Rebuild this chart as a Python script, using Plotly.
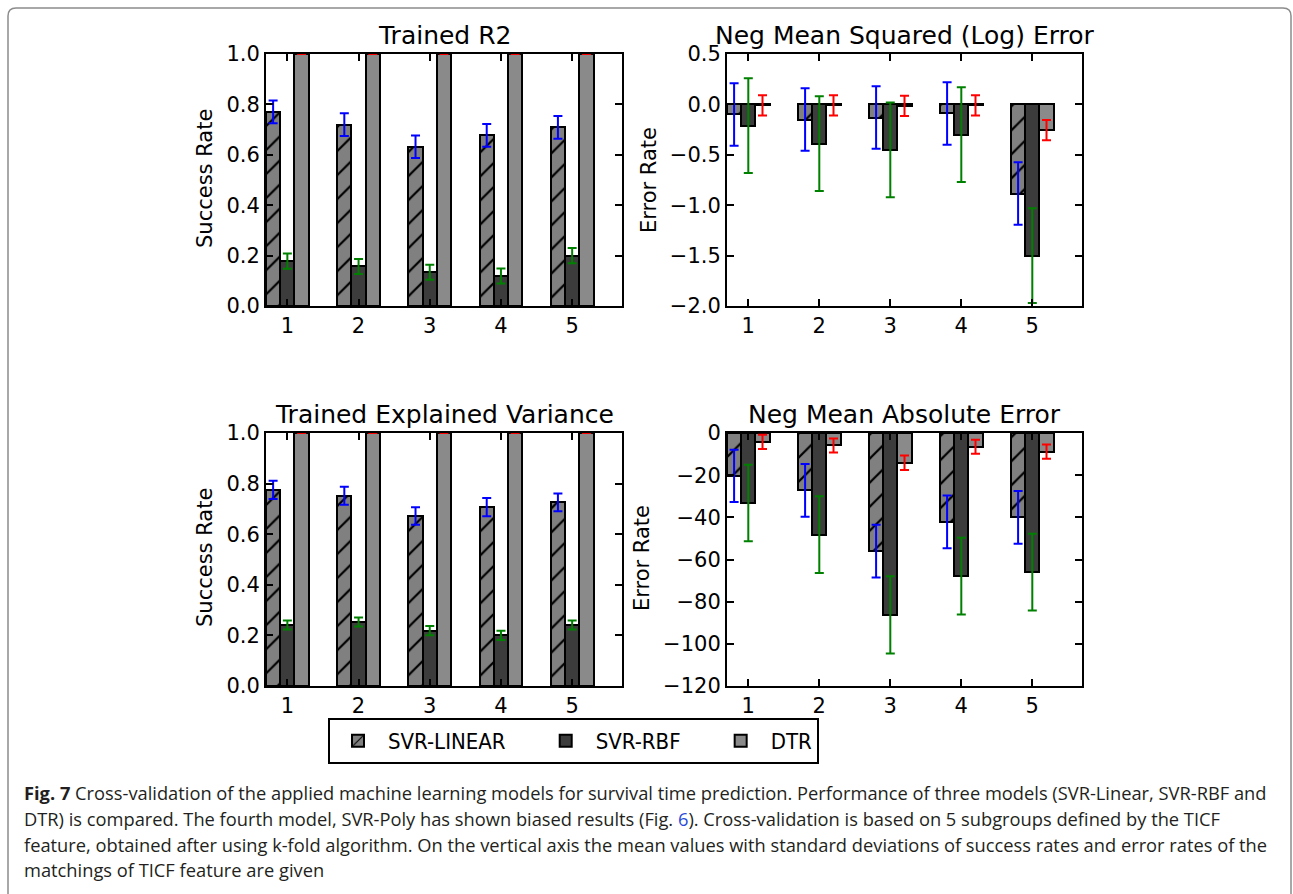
import numpy as np
import plotly.graph_objects as go
from plotly.subplots import make_subplots

# ---------------- data ----------------
categories = ["1", "2", "3", "4", "5"]
models = ["SVR-LINEAR", "SVR-RBF", "DTR"]

r2_lin = [0.770, 0.720, 0.632, 0.677, 0.709]
r2_lin_sd = [0.045, 0.045, 0.045, 0.045, 0.045]
r2_rbf = [0.178, 0.157, 0.134, 0.119, 0.200]
r2_rbf_sd = [0.030, 0.030, 0.030, 0.030, 0.030]
r2_dtr = [1.0, 1.0, 1.0, 1.0, 1.0]
r2_dtr_sd = [0.0, 0.0, 0.0, 0.0, 0.0]

msle_lin = [-0.10, -0.15, -0.13, -0.09, -0.885]
msle_lin_sd = [0.31, 0.31, 0.31, 0.31, 0.31]
msle_rbf = [-0.21, -0.39, -0.45, -0.30, -1.50]
msle_rbf_sd = [0.47, 0.47, 0.47, 0.47, 0.47]
msle_dtr = [-0.01, -0.01, -0.015, -0.01, -0.255]
msle_dtr_sd = [0.10, 0.10, 0.10, 0.10, 0.10]

ev_lin = [0.775, 0.752, 0.672, 0.707, 0.726]
ev_lin_sd = [0.036, 0.036, 0.035, 0.036, 0.035]
ev_rbf = [0.241, 0.253, 0.219, 0.200, 0.241]
ev_rbf_sd = [0.018, 0.018, 0.018, 0.018, 0.018]
ev_dtr = [1.0, 1.0, 1.0, 1.0, 1.0]
ev_dtr_sd = [0.0, 0.0, 0.0, 0.0, 0.0]

mae_lin = [-20.3, -27.2, -56.0, -42.2, -40.0]
mae_lin_sd = [12.4, 12.5, 12.5, 12.5, 12.5]
mae_rbf = [-33.2, -48.2, -86.3, -67.9, -66.0]
mae_rbf_sd = [18.2, 18.2, 18.3, 18.2, 18.2]
mae_dtr = [-4.2, -5.9, -14.1, -6.5, -8.8]
mae_dtr_sd = [3.4, 3.3, 3.4, 3.3, 3.4]

titles = ["Trained R2", "Neg Mean Squared (Log) Error",
          "Trained Explained Variance", "Neg Mean Absolute Error"]
ylabels = ["Success Rate", "Error Rate", "Success Rate", "Error Rate"]

caption_lines = [
    "<b>Fig. 7</b> Cross-validation of the applied machine learning models for survival time prediction. Performance of three models (SVR-Linear, SVR-RBF and",
    "DTR) is compared. The fourth model, SVR-Poly has shown biased results (Fig. <span style='color:#2a4bd8'>6</span>). Cross-validation is based on 5 subgroups defined by the TICF",
    "feature, obtained after using k-fold algorithm. On the vertical axis the mean values with standard deviations of success rates and error rates of the",
    "matchings of TICF feature are given",
]

# ---------------- layout constants ----------------
W, H = 1293, 894
BAR_W = 0.2
ind = np.arange(len(categories))
bar_colors = ["#808080", "#3c3c3c", "#8a8a8a"]
err_colors = ["#0000ff", "#008000", "#ff0000"]
NB = "\u00a0"
legend_pad = [NB * 4, NB * 4, ""]  # spacing between legend entries

panels = [
    (r2_lin, r2_lin_sd, r2_rbf, r2_rbf_sd, r2_dtr, r2_dtr_sd),
    (msle_lin, msle_lin_sd, msle_rbf, msle_rbf_sd, msle_dtr, msle_dtr_sd),
    (ev_lin, ev_lin_sd, ev_rbf, ev_rbf_sd, ev_dtr, ev_dtr_sd),
    (mae_lin, mae_lin_sd, mae_rbf, mae_rbf_sd, mae_dtr, mae_dtr_sd),
]

def px_x(p):
    return p / W

def px_y(p):
    return 1 - p / H

# pixel boxes (left, right, top, bottom)
boxes = [
    (266, 622, 54, 306),
    (727, 1082, 54, 306),
    (266, 622, 433, 686),
    (727, 1082, 433, 686),
]
yranges = [[0, 1.0], [-2.0, 0.5], [0, 1.0], [-120, 0]]
ydticks = [0.2, 0.5, 0.2, 20]
yformats = [".1f", ".1f", ".1f", "d"]

fig = make_subplots(rows=2, cols=2)

for k, data in enumerate(panels):
    r, c = k // 2 + 1, k % 2 + 1
    vals = [data[0], data[2], data[4]]
    sds = [data[1], data[3], data[5]]
    for m in range(3):
        pattern = dict(shape="/" if m == 0 else "", fgcolor="black",
                       bgcolor=bar_colors[m], fillmode="replace",
                       size=17, solidity=0.13)
        fig.add_trace(go.Bar(
            x=ind + BAR_W * (m + 0.5), y=vals[m], width=BAR_W,
            name=models[m] + legend_pad[m], legendgroup=models[m],
            showlegend=(k == 0),
            marker=dict(color=bar_colors[m], line=dict(color="black", width=2),
                        pattern=pattern),
            error_y=dict(type="data", array=sds[m], color=err_colors[m],
                         thickness=2, width=4.5),
        ), row=r, col=c)

axis_font = dict(family="DejaVu Sans", size=21, color="black")
for k in range(4):
    l, rgt, t, b = boxes[k]
    xa = "xaxis" if k == 0 else f"xaxis{k+1}"
    ya = "yaxis" if k == 0 else f"yaxis{k+1}"
    fig.layout[xa].update(
        domain=[px_x(l), px_x(rgt)], range=[0, 5],
        tickmode="array", tickvals=list(ind + 0.3), ticktext=categories,
        ticks="inside", ticklen=7, tickwidth=1.5, tickcolor="black",
        showline=True, linecolor="black", linewidth=2, mirror="allticks",
        showgrid=False, zeroline=False, tickfont=axis_font, fixedrange=True,
        automargin=False)
    fig.layout[ya].update(
        domain=[px_y(b), px_y(t)], range=yranges[k], dtick=ydticks[k],
        tick0=0, tickformat=yformats[k],
        ticks="inside", ticklen=7, tickwidth=1.5, tickcolor="black",
        showline=True, linecolor="black", linewidth=2, mirror="allticks",
        showgrid=False, zeroline=False, tickfont=axis_font, fixedrange=True,
        automargin=False)
    fig.add_annotation(text=titles[k], xref="paper", yref="paper",
                       x=px_x((l + rgt) / 2), y=px_y(t), xanchor="center",
                       yanchor="bottom", yshift=2, showarrow=False,
                       font=dict(family="DejaVu Sans", size=25, color="black"))

ylab_pos = [(205, 179), (649, 180), (205, 558), (642, 558)]
for k in range(4):
    fig.add_annotation(text=ylabels[k], xref="paper", yref="paper",
                       x=px_x(ylab_pos[k][0]), y=px_y(ylab_pos[k][1]),
                       xanchor="center", yanchor="middle", textangle=-90,
                       showarrow=False,
                       font=dict(family="DejaVu Sans", size=21, color="black"))

cap_y = [792, 818, 844, 869]
for i, line in enumerate(caption_lines):
    fig.add_annotation(text=line, xref="paper", yref="paper",
                       x=px_x(22), y=px_y(cap_y[i]), xanchor="left",
                       yanchor="middle", showarrow=False, align="left",
                       font=dict(family="Open Sans", size=18.3, color="#231f20"))

# outer rounded frame
fx0, fx1, fy0, r0 = 8, 1291, 8, 8
path = (f"M {px_x(fx0)},{px_y(H + 5)} L {px_x(fx0)},{px_y(fy0 + r0)} "
        f"Q {px_x(fx0)},{px_y(fy0)} {px_x(fx0 + r0)},{px_y(fy0)} "
        f"L {px_x(fx1 - r0)},{px_y(fy0)} "
        f"Q {px_x(fx1)},{px_y(fy0)} {px_x(fx1)},{px_y(fy0 + r0)} "
        f"L {px_x(fx1)},{px_y(H + 5)}")
fig.add_shape(type="path", path=path, xref="paper", yref="paper",
              line=dict(color="#8c8c8c", width=1.5), layer="below")

fig.update_layout(
    width=W, height=H, autosize=False,
    margin=dict(l=0, r=0, t=0, b=0, pad=0, autoexpand=False),
    paper_bgcolor="white", plot_bgcolor="white",
    barmode="overlay", bargap=0,
    showlegend=True,
    legend=dict(orientation="h", x=px_x(328), xanchor="left",
                y=px_y(718), yanchor="top",
                bordercolor="black", borderwidth=2, bgcolor="white",
                font=dict(family="DejaVu Sans Condensed, DejaVu Sans",
                          size=22, color="black"),
                itemwidth=50, tracegroupgap=0),
)

fig.write_html("out.html", config={"displayModeBar": False},
               post_script="document.body.style.margin='0';document.body.style.overflow='hidden';")
